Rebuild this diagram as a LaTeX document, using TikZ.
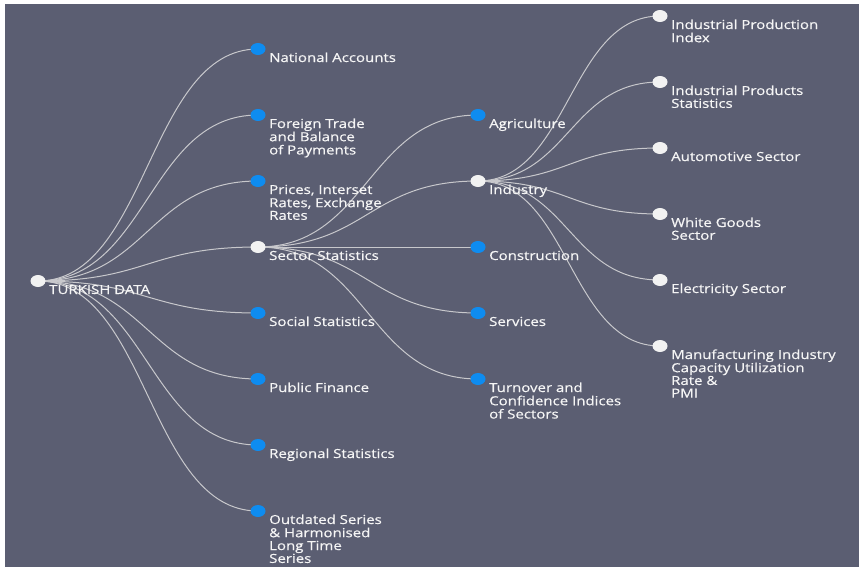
\documentclass[tikz,border=0pt]{standalone}
\usepackage{fontspec}
\setmainfont{Open Sans}
\newfontfamily\lblfont{Open Sans}[FakeBold=0.5]
\usetikzlibrary{shapes.geometric,calc}
\pgfdeclarelayer{bg}
\pgfdeclarelayer{edges}
\pgfsetlayers{bg,edges,main}
\definecolor{bgc}{RGB}{91,94,114}
\definecolor{bluec}{RGB}{14,140,240}
\definecolor{whitec}{RGB}{242,242,242}
\definecolor{linec}{RGB}{200,200,204}
\definecolor{txtc}{RGB}{245,245,245}
\newcommand{\lbltxt}[1]{\scalebox{1.2}[1]{\lblfont\fontsize{12.5}{12.3}\selectfont\begin{tabular}[t]{@{}l@{}}#1\end{tabular}}}
\tikzset{
  dot/.style={ellipse,minimum width=15pt,minimum height=12pt,inner sep=0pt,draw=none},
  bluedot/.style={dot,fill=bluec},
  whitedot/.style={dot,fill=whitec},
  lbl/.style={anchor=base west,inner sep=0pt,text=txtc},
  link/.style={draw=linec,line width=1pt},
  diag/.style={to path={let \p1=(\tikztostart), \p2=(\tikztotarget) in
     .. controls ({(\x1+\x2)/2},\y1) and ({(\x1+\x2)/2},\y2) .. (\tikztotarget)}}
}
\begin{document}
\begin{tikzpicture}[x=1pt,y=-1pt]
\useasboundingbox (0,0) rectangle (859,568);
\begin{pgfonlayer}{bg}
\fill[white] (0,0) rectangle (859,568);
\fill[bgc] (5,4) rectangle (859,567);
\end{pgfonlayer}
% root
\node[whitedot] (r) at (38,281) {};
\node[lbl] (rl) at (49,294) {\lbltxt{TURKISH DATA}};
% level 1
\node[bluedot] (a1) at (258,49) {};
\node[bluedot] (a2) at (258,115) {};
\node[bluedot] (a3) at (258,181) {};
\node[whitedot] (a4) at (258,247) {};
\node[bluedot] (a5) at (258,313) {};
\node[bluedot] (a6) at (258,379) {};
\node[bluedot] (a7) at (258,445) {};
\node[bluedot] (a8) at (258,511) {};
\node[lbl] (a1l) at (269,62) {\lbltxt{National Accounts}};
\node[lbl] (a2l) at (269,128) {\lbltxt{Foreign Trade\\and Balance\\of Payments}};
\node[lbl] (a3l) at (269,194) {\lbltxt{Prices, Interset\\Rates, Exchange\\Rates}};
\node[lbl] (a4l) at (269,260) {\lbltxt{Sector Statistics}};
\node[lbl] (a5l) at (269,326) {\lbltxt{Social Statistics}};
\node[lbl] (a6l) at (269,392) {\lbltxt{Public Finance}};
\node[lbl] (a7l) at (269,458) {\lbltxt{Regional Statistics}};
\node[lbl] (a8l) at (269,524) {\lbltxt{Outdated Series\\\& Harmonised\\Long Time\\Series}};
% level 2
\node[bluedot] (b1) at (478,115) {};
\node[whitedot] (b2) at (478,181) {};
\node[bluedot] (b3) at (478,247) {};
\node[bluedot] (b4) at (478,313) {};
\node[bluedot] (b5) at (478,379) {};
\node[lbl] (b1l) at (489,128) {\lbltxt{Agriculture}};
\node[lbl] (b2l) at (489,194) {\lbltxt{Industry}};
\node[lbl] (b3l) at (489,260) {\lbltxt{Construction}};
\node[lbl] (b4l) at (489,326) {\lbltxt{Services}};
\node[lbl] (b5l) at (489,392) {\lbltxt{Turnover and\\Confidence Indices\\of Sectors}};
% level 3
\node[whitedot] (c1) at (660,16) {};
\node[whitedot] (c2) at (660,82) {};
\node[whitedot] (c3) at (660,148) {};
\node[whitedot] (c4) at (660,214) {};
\node[whitedot] (c5) at (660,280) {};
\node[whitedot] (c6) at (660,346) {};
\node[lbl] (c1l) at (671,29) {\lbltxt{Industrial Production\\Index}};
\node[lbl] (c2l) at (671,95) {\lbltxt{Industrial Products\\Statistics}};
\node[lbl] (c3l) at (671,161) {\lbltxt{Automotive Sector}};
\node[lbl] (c4l) at (671,227) {\lbltxt{White Goods\\Sector}};
\node[lbl] (c5l) at (671,293) {\lbltxt{Electricity Sector}};
\node[lbl] (c6l) at (671,359) {\lbltxt{Manufacturing Industry\\Capacity Utilization\\Rate \&\\PMI}};
% links
\begin{pgfonlayer}{edges}
\foreach \t in {a1,a2,a3,a4,a5,a6,a7,a8}{\draw[link] (r.center) to[diag] (\t.center);}
\foreach \t in {b1,b2,b3,b4,b5}{\draw[link] (a4.center) to[diag] (\t.center);}
\foreach \t in {c1,c2,c3,c4,c5,c6}{\draw[link] (b2.center) to[diag] (\t.center);}
\end{pgfonlayer}
\end{tikzpicture}
\end{document}
